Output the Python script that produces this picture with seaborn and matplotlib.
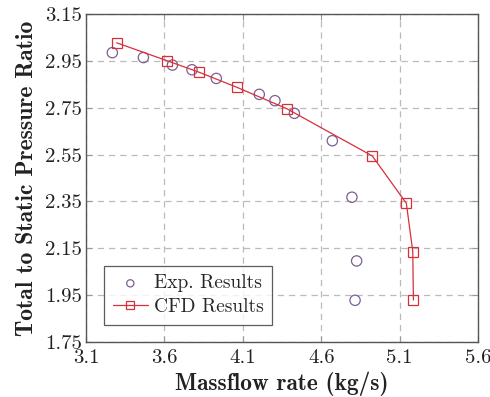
import matplotlib
matplotlib.use("Agg")
import matplotlib.pyplot as plt
import seaborn as sns
import pandas as pd

exp_x = [3.268, 3.466, 3.651, 3.776, 3.931, 4.205, 4.305, 4.429, 4.671, 4.796, 4.826, 4.816]
exp_y = [2.985, 2.964, 2.932, 2.912, 2.875, 2.807, 2.780, 2.726, 2.609, 2.368, 2.096, 1.928]
cfd_x = [3.296, 3.615, 3.823, 4.063, 4.380, 4.926, 5.143, 5.184, 5.188]
cfd_y = [3.027, 2.951, 2.901, 2.837, 2.746, 2.544, 2.342, 2.136, 1.929]
x_ticks = [3.1, 3.6, 4.1, 4.6, 5.1, 5.6]
y_ticks = [1.75, 1.95, 2.15, 2.35, 2.55, 2.75, 2.95, 3.15]

sns.set_theme(style="white")
plt.rcParams['font.family'] = ['cmr10', 'DejaVu Serif']
plt.rcParams['axes.formatter.use_mathtext'] = True

exp_df = pd.DataFrame({"x": exp_x, "y": exp_y})
cfd_df = pd.DataFrame({"x": cfd_x, "y": cfd_y})

fig = plt.figure(figsize=(4.9, 3.97), dpi=100)
ax = fig.add_axes([86/490, 1-342/397, (478-86)/490, (342-14)/397])

purple = "#7d5f92"
red = "#d7303a"

sns.scatterplot(data=exp_df, x="x", y="y", ax=ax, marker="o", s=55,
                facecolors="none", edgecolor=purple, linewidth=0.9,
                label="Exp. Results", zorder=3)
sns.lineplot(data=cfd_df, x="x", y="y", ax=ax, color=red, linewidth=0.9,
             marker="s", markersize=7.5, markerfacecolor="none",
             markeredgecolor=red, markeredgewidth=0.9,
             label="CFD Results", sort=False, zorder=4)

ax.set_xlim(3.1, 5.6)
ax.set_ylim(1.75, 3.15)
ax.set_xticks(x_ticks)
ax.set_yticks(y_ticks)
ax.set_xticklabels([f"{v:.1f}" for v in x_ticks])
ax.set_yticklabels([f"{v:.2f}" for v in y_ticks])
ax.grid(True, color="#bbbbbb", linestyle=(0, (5, 4)), linewidth=0.9)
ax.tick_params(axis="both", direction="in", length=4, width=0.8, color="#999999",
               labelsize=15, labelcolor="#222222",
               top=True, right=True, bottom=True, left=True)
ax.tick_params(axis="x", pad=5)
ax.tick_params(axis="y", pad=3)
for sp in ax.spines.values():
    sp.set_color("#555555")
    sp.set_linewidth(1.0)

ax.set_xlabel("Massflow rate (kg/s)", fontsize=16.8, family=['cmb10', 'DejaVu Serif'],
              color="#222222", labelpad=3)
ax.set_ylabel("Total to Static Pressure Ratio", fontsize=17, family=['cmb10', 'DejaVu Serif'],
              color="#222222", labelpad=5)

leg = ax.legend(loc="lower left", bbox_to_anchor=(0.046, 0.052), borderaxespad=0,
                fontsize=14, frameon=True, fancybox=False, edgecolor="#333333",
                handlelength=1.8, handletextpad=0.3, borderpad=0.45, labelspacing=0.3,
                markerscale=0.7)
leg.get_frame().set_linewidth(0.9)

fig.savefig("out.png", dpi=100)
